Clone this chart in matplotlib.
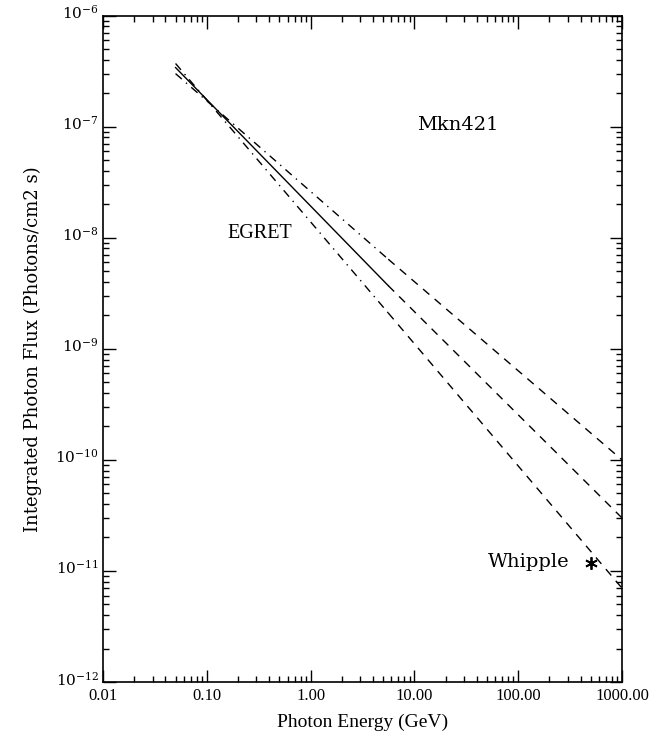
import matplotlib
matplotlib.use("Agg")
import matplotlib.pyplot as plt
from matplotlib.ticker import FixedLocator, LogLocator, NullFormatter, FixedFormatter
from matplotlib.transforms import ScaledTranslation

# ---- data ----
egret_energy = [0.05, 5.6]             # GeV, EGRET measured range
extrap_energy = [5.6, 1000.0]          # GeV, extrapolation
central_egret = [3.4e-7, 3.7e-9]
central_extrap = [3.7e-9, 3.0e-11]
upper_egret = [3.0e-7, 6.4e-9]
upper_extrap = [6.4e-9, 1.0e-10]
lower_egret = [3.7e-7, 2.1e-9]
lower_extrap = [2.1e-9, 7.0e-12]
whipple_energy = [500.0]
whipple_flux = [1.17e-11]

x_ticks = [0.01, 0.1, 1, 10, 100, 1000]
x_ticklabels = ["0.01", "0.10", "1.00", "10.00", "100.00", "1000.00"]
y_ticks = [1e-12, 1e-11, 1e-10, 1e-9, 1e-8, 1e-7, 1e-6]
y_ticklabels = [r"$10^{-12}$", r"$10^{-11}$", r"$10^{-10}$", r"$10^{-9}$",
                r"$10^{-8}$", r"$10^{-7}$", r"$10^{-6}$"]

plt.rcParams['mathtext.fontset'] = 'dejavuserif'

fig = plt.figure(figsize=(6.68, 7.40), dpi=100)
ax = fig.add_axes([0.1542, 0.0784, 0.7769, 0.9006])
ax.set_xscale('log')
ax.set_yscale('log')
ax.set_xlim(0.01, 1000)
ax.set_ylim(1e-12, 1e-6)

lw = 1.0
dash = (0, (6, 5))
dashdot = (0, (6, 4, 1, 4))
ax.plot(egret_energy, central_egret, color='black', lw=lw, ls='-')
ax.plot(extrap_energy, central_extrap, color='black', lw=lw, ls=dash)
ax.plot(egret_energy, upper_egret, color='black', lw=lw, ls=dashdot)
ax.plot(extrap_energy, upper_extrap, color='black', lw=lw, ls=dash)
ax.plot(egret_energy, lower_egret, color='black', lw=lw, ls=dashdot)
ax.plot(extrap_energy, lower_extrap, color='black', lw=lw, ls=dash)
ax.plot(whipple_energy, whipple_flux, marker=(6, 2, 0), color='black',
        markersize=9, markeredgewidth=1.3, ls='none')

ax.text(26, 1.03e-7, "Mkn421", fontsize=14, family='DejaVu Serif',
        ha='center', va='center')
ax.text(0.326, 1.1e-8, "EGRET", fontsize=14.5, family='Liberation Serif',
        ha='center', va='center')
ax.text(315, 1.2e-11, "Whipple", fontsize=14, family='DejaVu Serif',
        ha='right', va='center')

ax.xaxis.set_major_locator(FixedLocator(x_ticks))
ax.xaxis.set_major_formatter(FixedFormatter(x_ticklabels))
ax.xaxis.set_minor_locator(LogLocator(base=10, subs=range(2, 10), numticks=20))
ax.xaxis.set_minor_formatter(NullFormatter())
ax.yaxis.set_major_locator(FixedLocator(y_ticks))
ax.yaxis.set_major_formatter(FixedFormatter(y_ticklabels))
ax.yaxis.set_minor_locator(LogLocator(base=10, subs=range(2, 10), numticks=20))
ax.yaxis.set_minor_formatter(NullFormatter())

ax.tick_params(which='both', direction='in', top=True, right=True, width=1.0)
ax.tick_params(which='major', length=9)
ax.tick_params(which='minor', length=4.5)
ax.tick_params(axis='x', which='major', pad=4)
ax.tick_params(axis='y', which='major', pad=3)
for lab in ax.get_xticklabels():
    lab.set_fontfamily('Liberation Serif')
    lab.set_fontsize(12)
for lab in ax.get_yticklabels():
    lab.set_fontsize(11)
offset = ScaledTranslation(0, 3 / 72, fig.dpi_scale_trans)
for tick in ax.yaxis.get_major_ticks():
    tick.label1.set_transform(tick.label1.get_transform() + offset)
for s in ax.spines.values():
    s.set_linewidth(1.2)

ax.set_xlabel("Photon Energy (GeV)", fontsize=14, family='Liberation Serif',
              labelpad=7)
ax.set_ylabel("Integrated Photon Flux (Photons/cm2 s)", fontsize=13,
              family='DejaVu Serif', labelpad=10)

fig.savefig("out.png", dpi=100)
